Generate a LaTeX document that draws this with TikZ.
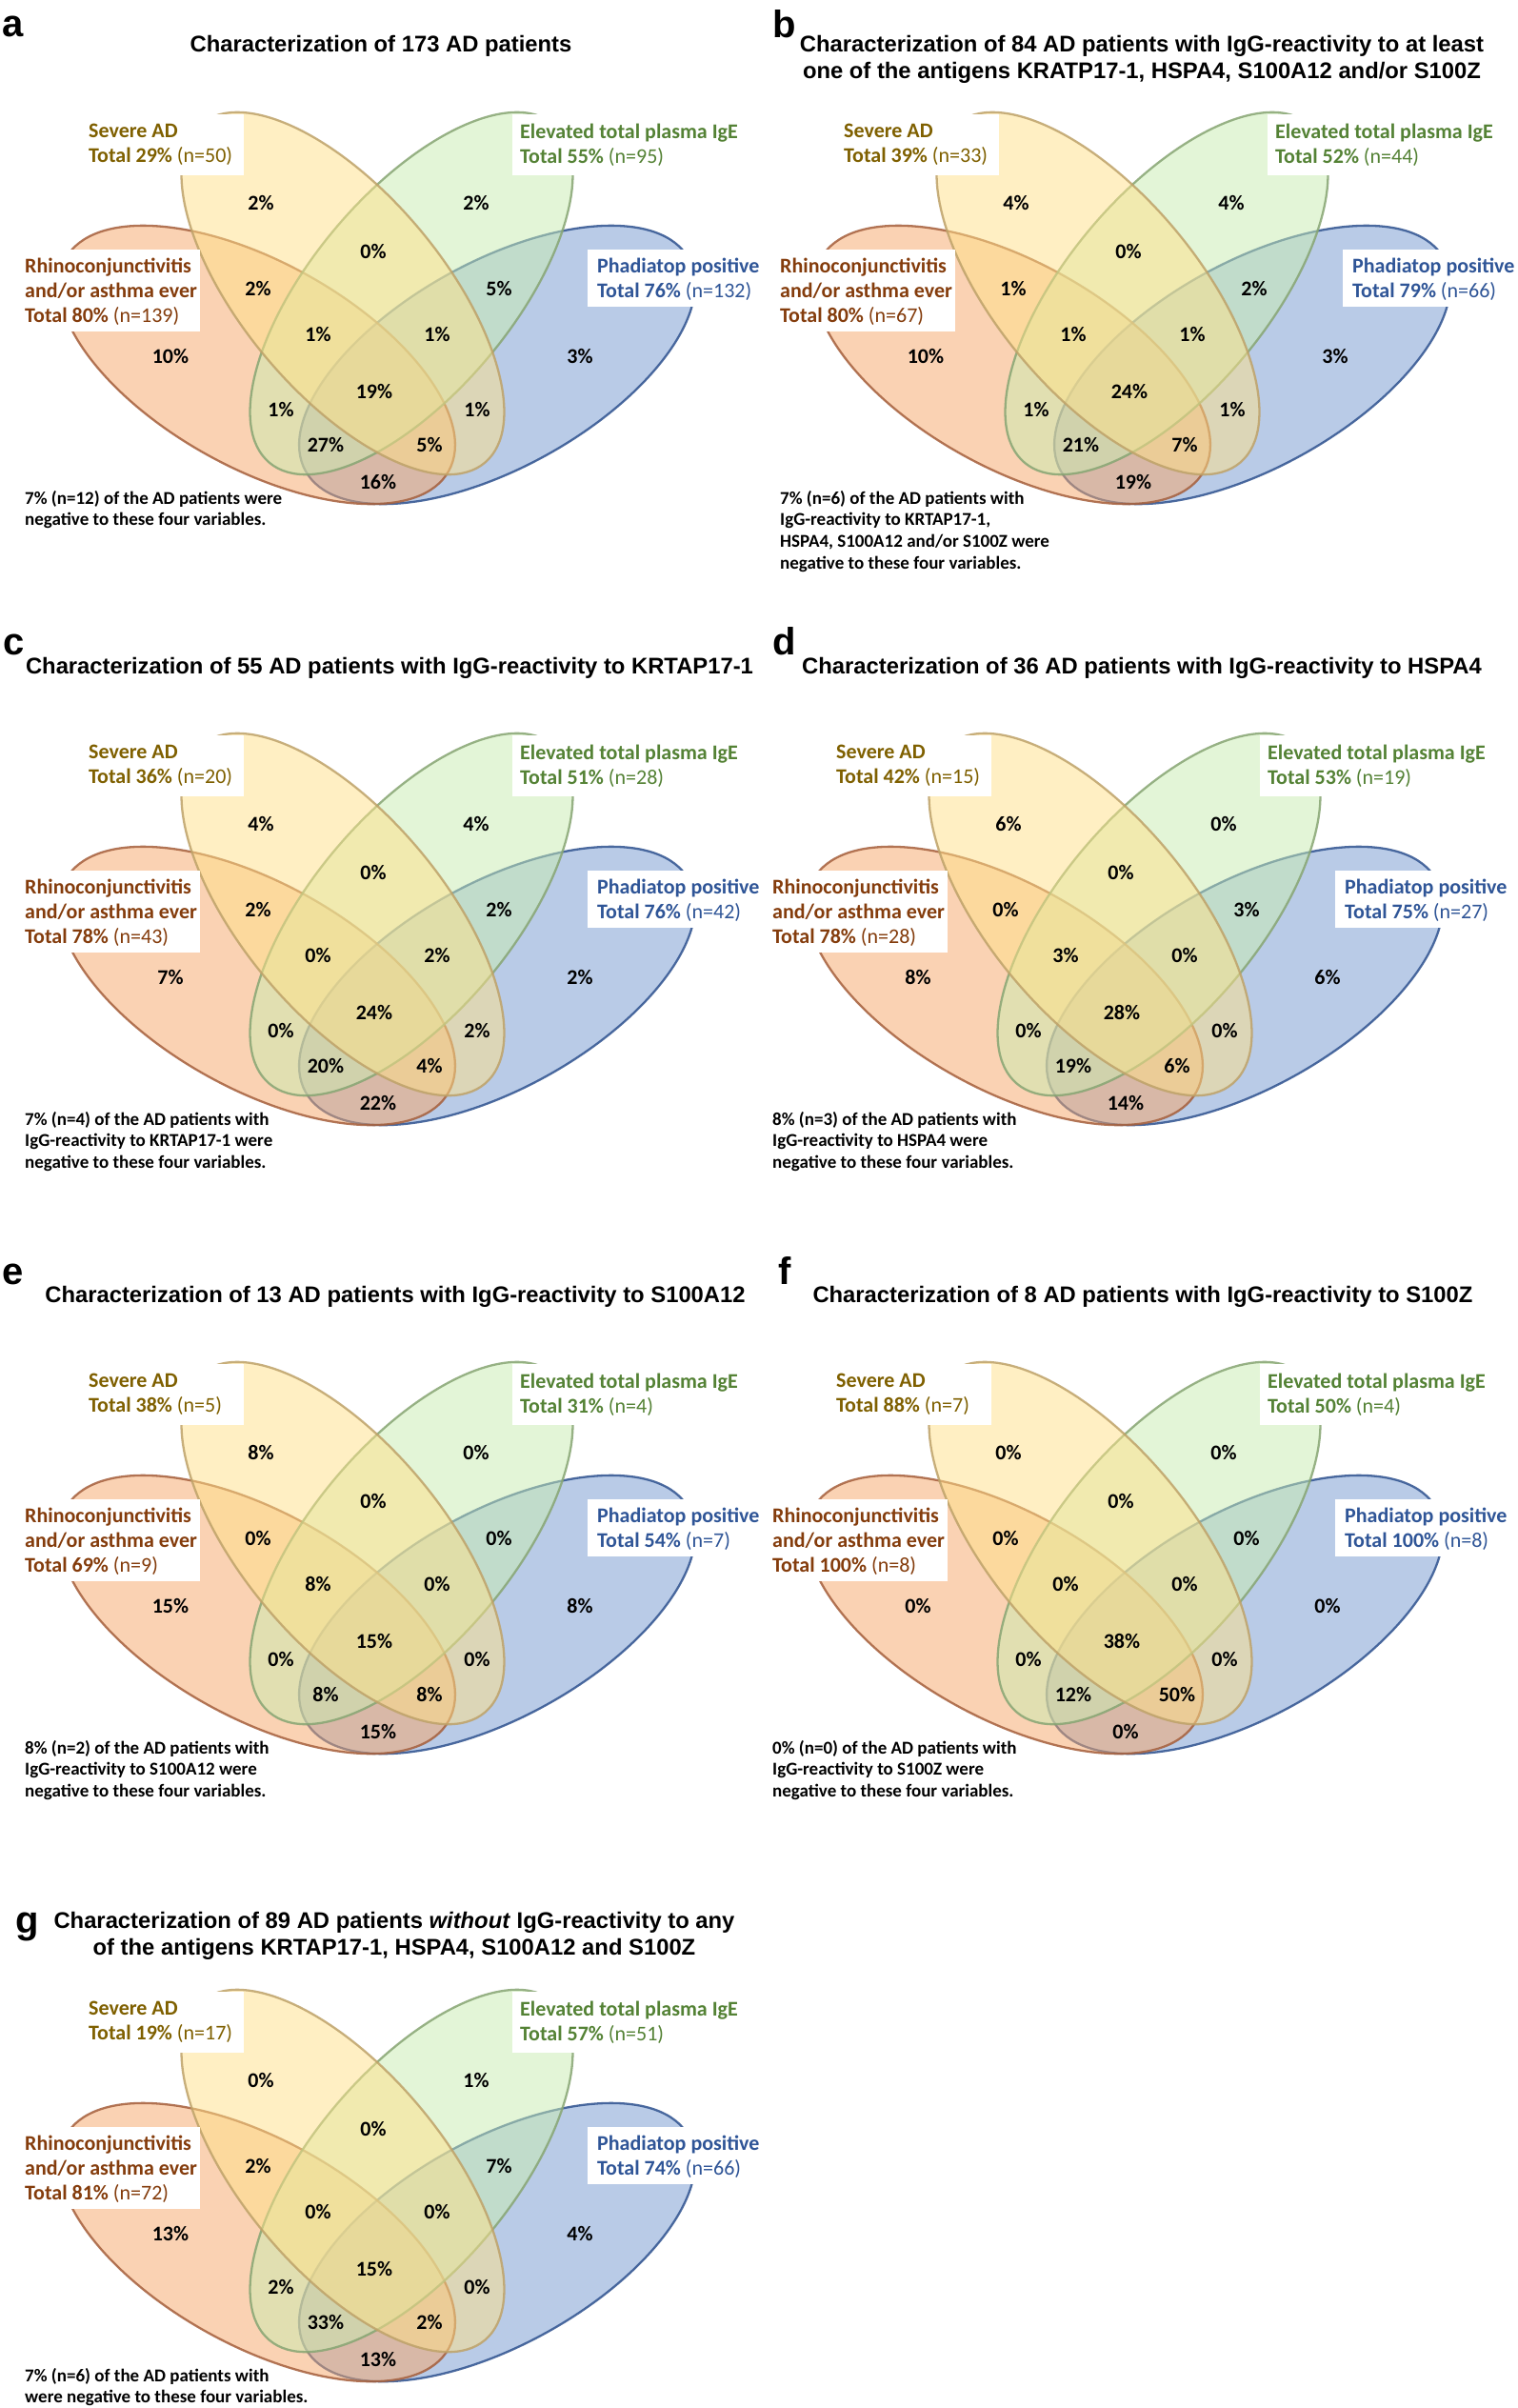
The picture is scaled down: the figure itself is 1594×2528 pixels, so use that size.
\documentclass[tikz,border=0pt]{standalone}
\usepackage{fontspec}
\setmainfont{Carlito}
\newfontfamily\arialfont{Liberation Sans}

\definecolor{phadfill}{RGB}{117,153,209}
\definecolor{phaddraw}{RGB}{47,82,143}
\definecolor{rhinofill}{RGB}{247,167,105}
\definecolor{rhinodraw}{RGB}{165,95,60}
\definecolor{igefill}{RGB}{201,237,177}
\definecolor{igedraw}{RGB}{135,165,115}
\definecolor{sevfill}{RGB}{255,225,137}
\definecolor{sevdraw}{RGB}{190,162,105}
\definecolor{sevtext}{RGB}{127,96,0}
\definecolor{igetext}{RGB}{84,130,53}
\definecolor{rhinotext}{RGB}{132,60,12}
\definecolor{phadtext}{RGB}{47,85,151}

% centres of the 15 regions: B, C, BC, AB, CD, ABC, BCD, A, D, ABCD, AC, BD, ACD, ABD, AD
\def\regx{{274,500,392,271,524,334,459,179,609,393,295,501,342,451,397}}
\def\regy{{213,213,264,303,303,351,351,374,374,411,430,430,467,467,506}}

\newcommand{\tot}[2]{Total #1\% {\mdseries(n=#2)}}

% #1 name, #2 shift, #3 region values, #4-#7 totals, #8 note
\newcommand{\vennpanel}[8]{%
\begin{scope}[shift={#2}]
% sets, bottom to top
\draw[phadset,rotate around={29:(522,383)}] (522,383) ellipse [x radius=230,y radius=108];
\draw[rhinoset,rotate around={-29:(270,383)}] (270,383) ellipse [x radius=230,y radius=108];
\draw[igeset,rotate around={50:(432,308)}] (432,308) ellipse [x radius=232,y radius=105];
\draw[sevset,rotate around={-50:(360,308)}] (360,308) ellipse [x radius=232,y radius=105];
% white label boxes
\fill[white] (85,120) rectangle (256,184);
\fill[white] (538,120) rectangle (790,184);
\fill[white] (20,262) rectangle (210,348);
\fill[white] (617,262) rectangle (800,322);
\node[lbl,text=sevtext] (#1-sev) at (93,152) {Severe AD\\#4};
\node[lbl,text=igetext] (#1-ige) at (546,152) {Elevated total plasma IgE\\#5};
\node[lbl,text=rhinotext] (#1-rhino) at (26,306) {Rhinoconjunctivitis\\and/or asthma ever\\#6};
\node[lbl,text=phadtext] (#1-phad) at (627,293) {Phadiatop positive\\#7};
% region values
\foreach \v [count=\k from 0] in {#3}{
  \pgfmathsetmacro\px{\regx[\k]}
  \pgfmathsetmacro\py{\regy[\k]}
  \node[pct] (#1-r\k) at (\px,\py) {\v\%};
}
\node[footnote] (#1-note) at (26,515) {#8};
\end{scope}}

\begin{document}
\begin{tikzpicture}[x=1pt,y=-1pt,
  vennset/.style={line width=2.3pt,fill opacity=0.5,draw opacity=0.85},
  phadset/.style={vennset,fill=phadfill,draw=phaddraw},
  rhinoset/.style={vennset,fill=rhinofill,draw=rhinodraw},
  igeset/.style={vennset,fill=igefill,draw=igedraw},
  sevset/.style={vennset,fill=sevfill,draw=sevdraw},
  pct/.style={inner sep=0pt,font=\fontsize{22}{26}\selectfont\bfseries},
  lbl/.style={anchor=west,align=left,inner sep=0pt,font=\fontsize{22}{26}\selectfont\bfseries},
  footnote/.style={anchor=north west,align=left,inner sep=0pt,font=\fontsize{19}{22.6}\selectfont\bfseries},
  ttl/.style={align=center,inner sep=0pt,font=\arialfont\bfseries\fontsize{23.8}{28}\selectfont},
  panelletter/.style={anchor=base west,inner sep=0pt,font=\arialfont\bfseries\fontsize{40}{48}\selectfont}]
\fill[white] (0,0) rectangle (1594,2528);
\useasboundingbox (0,0) rectangle (1594,2528);

% a
\node[panelletter] (a-letter) at (2,38) {a};
\node[ttl] (a-title) at (400,48) {Characterization of 173 AD patients};
\vennpanel{a}{(0,0)}{2,2,0,2,5,1,1,10,3,19,1,1,27,5,16}{\tot{29}{50}}{\tot{55}{95}}{\tot{80}{139}}{\tot{76}{132}}{7\% (n=12) of the AD patients were\\negative to these four variables.}

% b
\node[panelletter] (b-letter) at (811,39) {b};
\node[ttl] (b-title) at (1199,62) {Characterization of 84 AD patients with IgG-reactivity to at least\\one of the antigens KRATP17-1, HSPA4, S100A12 and/or S100Z};
\vennpanel{b}{(793,0)}{4,4,0,1,2,1,1,10,3,24,1,1,21,7,19}{\tot{39}{33}}{\tot{52}{44}}{\tot{80}{67}}{\tot{79}{66}}{7\% (n=6) of the AD patients with\\IgG-reactivity to KRTAP17-1,\\HSPA4, S100A12 and/or S100Z were\\negative to these four variables.}

% c
\node[panelletter] (c-letter) at (3,687) {c};
\node[ttl] (c-title) at (409,701) {Characterization of 55 AD patients with IgG-reactivity to KRTAP17-1};
\vennpanel{c}{(0,652)}{4,4,0,2,2,0,2,7,2,24,0,2,20,4,22}{\tot{36}{20}}{\tot{51}{28}}{\tot{78}{43}}{\tot{76}{42}}{7\% (n=4) of the AD patients with\\IgG-reactivity to KRTAP17-1 were\\negative to these four variables.}

% d
\node[panelletter] (d-letter) at (811,687) {d};
\node[ttl] (d-title) at (1199,701) {Characterization of 36 AD patients with IgG-reactivity to HSPA4};
\vennpanel{d}{(785,652)}{6,0,0,0,3,3,0,8,6,28,0,0,19,6,14}{\tot{42}{15}}{\tot{53}{19}}{\tot{78}{28}}{\tot{75}{27}}{8\% (n=3) of the AD patients with\\IgG-reactivity to HSPA4 were\\negative to these four variables.}

% e
\node[panelletter] (e-letter) at (2,1348) {e};
\node[ttl] (e-title) at (415,1361) {Characterization of 13 AD patients with IgG-reactivity to S100A12};
\vennpanel{e}{(0,1312)}{8,0,0,0,0,8,0,15,8,15,0,0,8,8,15}{\tot{38}{5}}{\tot{31}{4}}{\tot{69}{9}}{\tot{54}{7}}{8\% (n=2) of the AD patients with\\IgG-reactivity to S100A12 were\\negative to these four variables.}

% f
\node[panelletter] (f-letter) at (817,1348) {f};
\node[ttl] (f-title) at (1200,1361) {Characterization of 8 AD patients with IgG-reactivity to S100Z};
\vennpanel{f}{(785,1312)}{0,0,0,0,0,0,0,0,0,38,0,0,12,50,0}{\tot{88}{7}}{\tot{50}{4}}{\tot{100}{8}}{\tot{100}{8}}{0\% (n=0) of the AD patients with\\IgG-reactivity to S100Z were\\negative to these four variables.}

% g
\node[panelletter] (g-letter) at (16,2029) {g};
\node[ttl] (g-title) at (414,2032) {Characterization of 89 AD patients \textit{without} IgG-reactivity to any\\of the antigens KRTAP17-1, HSPA4, S100A12 and S100Z};
\vennpanel{g}{(0,1971)}{0,1,0,2,7,0,0,13,4,15,2,0,33,2,13}{\tot{19}{17}}{\tot{57}{51}}{\tot{81}{72}}{\tot{74}{66}}{7\% (n=6) of the AD patients with\\were negative to these four variables.}
\end{tikzpicture}
\end{document}
